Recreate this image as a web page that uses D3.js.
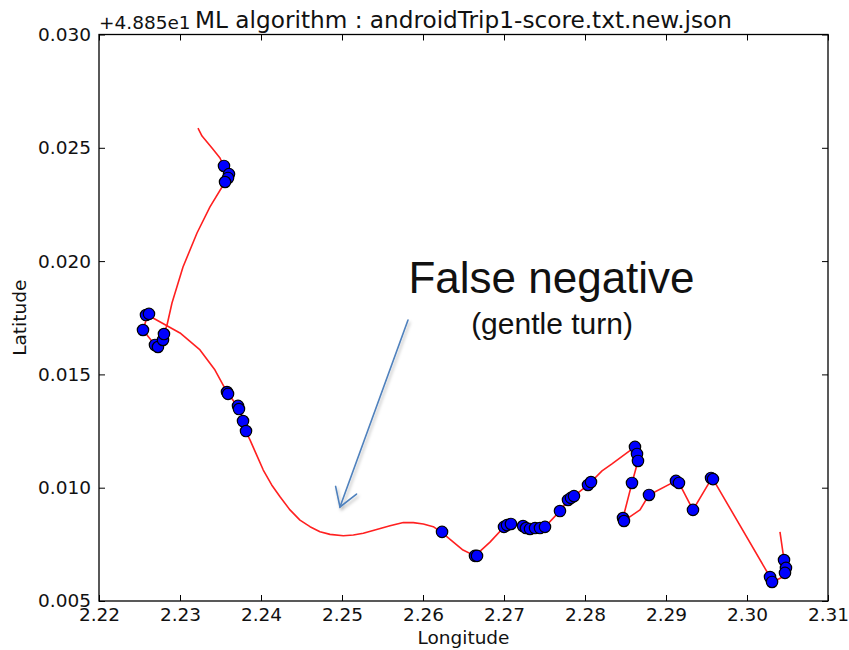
<!DOCTYPE html>
<html>
<head>
<meta charset="utf-8">
<script src="https://cdn.jsdelivr.net/npm/d3@7"></script>
<style>
  html, body { margin: 0; padding: 0; background: #fff; }
  svg { display: block; }
  text { font-family: "DejaVu Sans", sans-serif; fill: #111; }
</style>
</head>
<body>
<svg id="chart" width="849" height="650"></svg>
<script>
// Latitudes are stored relative to the axis offset (+4.885e1 = 48.85)
const latBase = 48.85;
const offsetLabel = "+4.885e1";
const titleText = "ML algorithm : androidTrip1-score.txt.new.json";

// GPS track (red line)
const trackLon = [2.23222, 2.23272, 2.23395, 2.23494, 2.23543, 2.23593, 2.23556, 2.23519, 2.23370, 2.23210,
  2.23037, 2.22901, 2.22840, 2.22802, 2.22790, 2.22728, 2.22691, 2.22543, 2.22605, 2.22667,
  2.23000, 2.23247, 2.23432, 2.23580, 2.23716, 2.23790, 2.23815, 2.23864, 2.23947, 2.24028,
  2.24132, 2.24235, 2.24358, 2.24481, 2.24605, 2.24728, 2.24852, 2.25016, 2.25140, 2.25263,
  2.25428, 2.25593, 2.25757, 2.25880, 2.26004, 2.26127, 2.26238, 2.26494,
  2.26642, 2.26827, 2.27012, 2.27086, 2.27235, 2.27321, 2.27506, 2.27691, 2.27790, 2.27864,
  2.28037, 2.28074, 2.28210, 2.28333, 2.28617, 2.28642, 2.28654, 2.28580, 2.28469, 2.28494,
  2.28679, 2.28790, 2.29123, 2.29160, 2.29333, 2.29568, 2.29580, 2.30284, 2.30309, 2.30444,
  2.30481, 2.30457, 2.30407];
const trackLat = [0.02587, 0.02552, 0.02499, 0.02455, 0.02415, 0.02376, 0.02349, 0.02327, 0.02239, 0.02124,
  0.01974, 0.01815, 0.01718, 0.01683, 0.01652, 0.01621, 0.01630, 0.01696, 0.01767, 0.01749,
  0.01683, 0.01608, 0.01519, 0.01422, 0.01356, 0.01299, 0.01246, 0.01211, 0.01144, 0.01078,
  0.01012, 0.00960, 0.00902, 0.00857, 0.00828, 0.00806, 0.00794, 0.00788, 0.00791, 0.00799,
  0.00816, 0.00832, 0.00846, 0.00846, 0.00840, 0.00828, 0.00801, 0.00725,
  0.00699, 0.00760, 0.00831, 0.00840, 0.00831, 0.00818, 0.00827, 0.00897, 0.00946, 0.00963,
  0.01012, 0.01025, 0.01074, 0.01105, 0.01180, 0.01149, 0.01118, 0.01021, 0.00866, 0.00857,
  0.00902, 0.00968, 0.01030, 0.01021, 0.00902, 0.01043, 0.01038, 0.00606, 0.00584, 0.00606,
  0.00646, 0.00681, 0.00805];

// Points flagged by the algorithm (blue markers)
const flagLon = [2.23543, 2.23605, 2.23593, 2.23556,
  2.22580, 2.22617, 2.22543, 2.22691, 2.22728, 2.22790, 2.22802,
  2.23580, 2.23593, 2.23716, 2.23728, 2.23778, 2.23815,
  2.26235, 2.26642, 2.26667,
  2.27000, 2.27037, 2.27086, 2.27235, 2.27272, 2.27321, 2.27383, 2.27444, 2.27506,
  2.27691, 2.27790, 2.27827, 2.27864, 2.28037, 2.28074,
  2.28617, 2.28642, 2.28654, 2.28580, 2.28469, 2.28481, 2.28790, 2.29123, 2.29160, 2.29333,
  2.29556, 2.29580, 2.30284, 2.30309, 2.30457, 2.30481, 2.30469];
const flagLat = [0.02420, 0.02384, 0.02367, 0.02349,
  0.01762, 0.01767, 0.01696, 0.01630, 0.01621, 0.01652, 0.01678,
  0.01422, 0.01414, 0.01361, 0.01347, 0.01294, 0.01250,
  0.00805, 0.00699, 0.00699,
  0.00827, 0.00835, 0.00840, 0.00831, 0.00822, 0.00818, 0.00822, 0.00822, 0.00827,
  0.00897, 0.00946, 0.00955, 0.00963, 0.01012, 0.01025,
  0.01180, 0.01149, 0.01118, 0.01021, 0.00866, 0.00853, 0.00968, 0.01030, 0.01021, 0.00902,
  0.01043, 0.01038, 0.00606, 0.00584, 0.00681, 0.00646, 0.00624];

// Axis ticks
const xTicks = [2.22, 2.23, 2.24, 2.25, 2.26, 2.27, 2.28, 2.29, 2.30, 2.31];
const yTicks = [0.005, 0.010, 0.015, 0.020, 0.025, 0.030];

// Callout arrow (tail, head) in data units
const arrowLon = [2.25815, 2.24975];
const arrowLat = [0.01740, 0.00915];
const calloutMain = "False negative";
const calloutSub = "(gentle turn)";

const svg = d3.select("#chart");
const plotLeft = 99, plotRight = 828, plotTop = 34.5, plotBottom = 601;

const x = d3.scaleLinear().domain([2.22, 2.31]).range([plotLeft, plotRight]);
const y = d3.scaleLinear().domain([0.005, 0.030]).range([plotBottom, plotTop]);

const FS = 18.5;

const defs = svg.append("defs");
// Clip for plotted data
defs.append("clipPath").attr("id", "plotClip")
  .append("rect").attr("x", plotLeft).attr("y", plotTop)
  .attr("width", plotRight - plotLeft).attr("height", plotBottom - plotTop);

const shadow = defs.append("filter").attr("id", "arrowShadow")
  .attr("x", "-50%").attr("y", "-50%").attr("width", "200%").attr("height", "200%");
shadow.append("feDropShadow").attr("dx", 1.5).attr("dy", 2.5)
  .attr("stdDeviation", 1.6).attr("flood-color", "#000").attr("flood-opacity", 0.28);

// Track line
const track = trackLon.map((lon, i) => [lon, trackLat[i]]);
svg.append("path")
  .datum(track)
  .attr("clip-path", "url(#plotClip)")
  .attr("fill", "none")
  .attr("stroke", "#ff2020")
  .attr("stroke-width", 1.6)
  .attr("stroke-linejoin", "round")
  .attr("d", d3.line().x(d => x(d[0])).y(d => y(d[1])));

// Flagged points
const flags = flagLon.map((lon, i) => [lon, flagLat[i]]);
svg.append("g").attr("clip-path", "url(#plotClip)")
  .selectAll("circle").data(flags).join("circle")
  .attr("cx", d => x(d[0]))
  .attr("cy", d => y(d[1]))
  .attr("r", 5.7)
  .attr("fill", "#0000ff")
  .attr("stroke", "#000")
  .attr("stroke-width", 1.2);

// Axes: inward ticks on all four sides, labels on bottom and left
const fmtX = d3.format(".2f"), fmtY = d3.format(".3f");
const styleAxis = g => {
  g.select(".domain").remove();
  g.selectAll(".tick line").attr("stroke", "#000").attr("stroke-width", 1);
  g.selectAll(".tick text").attr("font-size", FS).attr("fill", "#111")
    .attr("font-family", "DejaVu Sans, sans-serif");
};

svg.append("g").attr("transform", `translate(0,${plotBottom})`)
  .call(d3.axisBottom(x).tickValues(xTicks).tickFormat(fmtX)
    .tickSizeInner(-6).tickSizeOuter(0).tickPadding(7))
  .call(styleAxis);
svg.append("g").attr("transform", `translate(0,${plotTop})`)
  .call(d3.axisTop(x).tickValues(xTicks).tickFormat("")
    .tickSizeInner(-6).tickSizeOuter(0))
  .call(styleAxis);
svg.append("g").attr("transform", `translate(${plotLeft},0)`)
  .call(d3.axisLeft(y).tickValues(yTicks).tickFormat(fmtY)
    .tickSizeInner(-6).tickSizeOuter(0).tickPadding(8))
  .call(styleAxis);
svg.append("g").attr("transform", `translate(${plotRight},0)`)
  .call(d3.axisRight(y).tickValues(yTicks).tickFormat("")
    .tickSizeInner(-6).tickSizeOuter(0))
  .call(styleAxis);

// Frame
svg.append("rect")
  .attr("x", plotLeft).attr("y", plotTop)
  .attr("width", plotRight - plotLeft).attr("height", plotBottom - plotTop)
  .attr("fill", "none").attr("stroke", "#000").attr("stroke-width", 1.3);

// Axis labels and title
svg.append("text")
  .attr("x", (plotLeft + plotRight) / 2).attr("y", 644)
  .attr("text-anchor", "middle").attr("font-size", FS)
  .text("Longitude");
svg.append("text")
  .attr("transform", `translate(26,${(plotTop + plotBottom) / 2}) rotate(-90)`)
  .attr("text-anchor", "middle").attr("font-size", FS)
  .text("Latitude");
svg.append("text")
  .attr("x", plotLeft).attr("y", 29)
  .attr("font-size", FS)
  .text(offsetLabel);
svg.append("text")
  .attr("x", (plotLeft + plotRight) / 2).attr("y", 27.5)
  .attr("text-anchor", "middle").attr("font-size", 23.2)
  .text(titleText);

// Callout arrow
const ax0 = x(arrowLon[0]), ay0 = y(arrowLat[0]);
const ax1 = x(arrowLon[1]), ay1 = y(arrowLat[1]);
const ang = Math.atan2(ay0 - ay1, ax0 - ax1);
const headLen = 21, spread = 32 * Math.PI / 180;
const arrow = svg.append("g").attr("filter", "url(#arrowShadow)")
  .attr("stroke", "#4f81bd").attr("stroke-width", 1.6)
  .attr("fill", "none").attr("stroke-linecap", "round");
arrow.append("line")
  .attr("x1", ax0).attr("y1", ay0).attr("x2", ax1).attr("y2", ay1);
arrow.append("path")
  .attr("d", d3.line()([
    [ax1 + headLen * Math.cos(ang - spread), ay1 + headLen * Math.sin(ang - spread)],
    [ax1, ay1],
    [ax1 + headLen * Math.cos(ang + spread), ay1 + headLen * Math.sin(ang + spread)]
  ]));

svg.append("text")
  .attr("x", 551.5).attr("y", 293)
  .attr("text-anchor", "middle")
  .attr("font-size", 44)
  .style("font-family", "'Liberation Sans', Arial, sans-serif")
  .text(calloutMain);
svg.append("text")
  .attr("x", 552).attr("y", 334)
  .attr("text-anchor", "middle")
  .attr("font-size", 30)
  .style("font-family", "'Liberation Sans', Arial, sans-serif")
  .text(calloutSub);
</script>
</body>
</html>
